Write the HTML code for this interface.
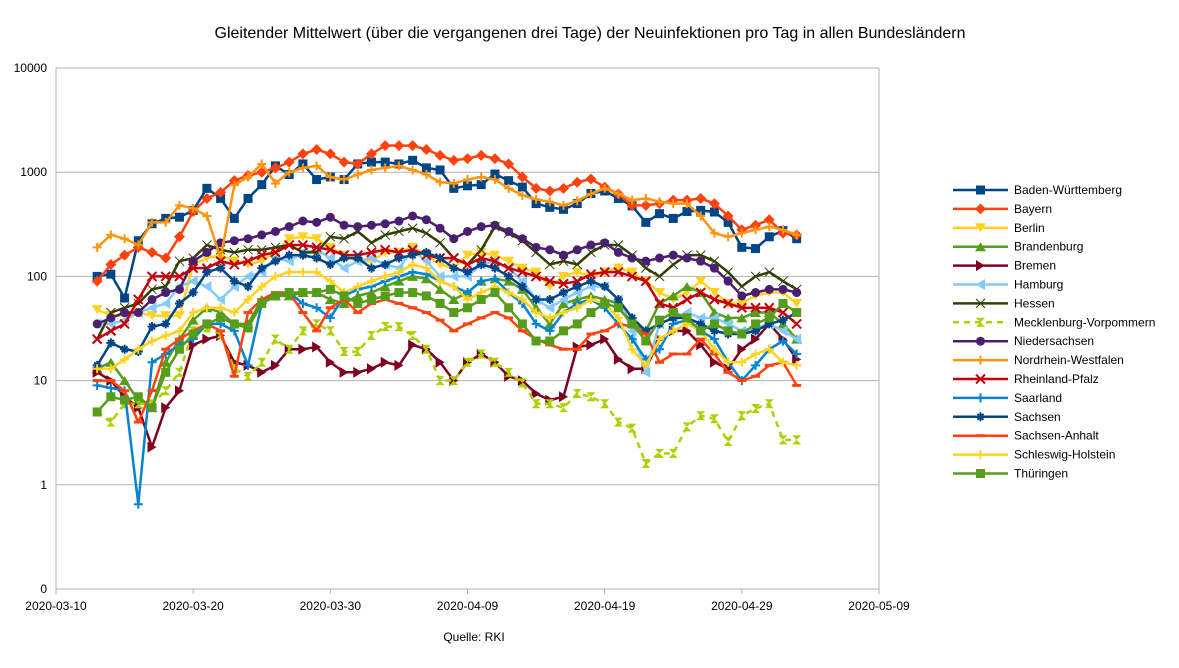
<!DOCTYPE html>
<html><head><meta charset="utf-8"><style>
body{margin:0;background:#fff;font-family:"Liberation Sans",sans-serif}
</style></head><body>
<svg id="chart" width="1179" height="663" xmlns="http://www.w3.org/2000/svg" style="font-family:'Liberation Sans',sans-serif">
<text x="590" y="38" font-size="16" text-anchor="middle" fill="#000">Gleitender Mittelwert (über die vergangenen drei Tage) der Neuinfektionen pro Tag in allen Bundesländern</text>
<text x="474" y="641" font-size="12" text-anchor="middle" fill="#000">Quelle: RKI</text>
<g id="grid"></g><g id="series"></g><g id="legend"></g>
</svg>
<script>
const startDate = "2020-03-13";
const xTickLabels = ["2020-03-10","2020-03-20","2020-03-30","2020-04-09","2020-04-19","2020-04-29","2020-05-09"];
const yTickLabels = ["0","1","10","100","1000","10000"];
const seriesNames = ["Baden-Württemberg","Bayern","Berlin","Brandenburg","Bremen","Hamburg","Hessen","Mecklenburg-Vorpommern","Niedersachsen","Nordrhein-Westfalen","Rheinland-Pfalz","Saarland","Sachsen","Sachsen-Anhalt","Schleswig-Holstein","Thüringen"];
const bw = [100,105,62,220,320,360,370,430,700,560,360,560,760,1150,950,1200,850,900,850,1200,1250,1250,1200,1300,1100,1050,700,740,760,960,830,720,500,460,440,500,625,660,560,475,330,400,360,420,430,415,330,190,185,240,275,230];
const by = [90,130,160,190,170,150,240,420,560,640,830,930,1000,1100,1250,1500,1650,1500,1250,1200,1500,1800,1800,1800,1650,1450,1300,1350,1450,1350,1200,900,700,660,700,800,860,720,620,480,480,500,540,540,560,500,380,280,310,350,260,250];
const be = [48,42,42,45,42,42,42,130,150,160,140,130,140,170,230,240,230,190,160,140,140,170,170,190,160,130,120,160,170,160,140,120,110,80,100,110,100,110,120,110,90,70,60,70,90,70,55,55,65,70,70,55];
const bb = [13,15,10,6.5,5.5,15,25,38,50,45,35,35,60,65,65,70,70,60,55,65,70,80,90,100,95,75,60,70,90,95,90,75,50,35,55,60,65,60,55,35,30,55,65,80,70,45,40,40,45,45,35,25];
const hb = [12,10,7,5.5,2.3,5.5,8,22,25,27,15,14,12,14,20,20,21,15,12,12,13,15,14,22,20,15,10,15,18,15,11,10,7.5,6.5,7,21,22,25,16,13,13,25,30,30,22,15,13,20,25,35,25,16];
const hh = [35,35,38,45,50,55,80,90,80,60,80,100,110,150,140,170,180,150,120,140,150,130,120,180,140,100,100,100,130,140,120,90,60,50,60,70,80,80,60,30,12,35,40,45,40,40,35,30,32,35,30,25];
const he = [25,45,50,55,75,80,140,150,200,180,170,180,180,190,200,170,170,240,230,270,210,250,270,290,260,210,150,130,180,300,260,220,170,130,140,130,170,200,200,160,120,100,130,160,160,140,110,80,100,110,90,75];
const mv = [5,4,6,6,6,8,12,30,32,28,13,11,15,25,20,30,35,30,19,19,27,33,33,27,20,10,10,15,18,15,12,9.5,6,6,5.5,7.5,7,6,4,3.5,1.6,2,2,3.6,4.6,4.3,2.6,4.6,5.4,6,2.7,2.7];
const ni = [35,40,45,45,60,70,75,140,170,210,220,230,250,270,300,340,330,370,310,300,310,320,340,380,350,290,230,270,300,310,270,230,190,180,160,180,200,210,170,150,140,150,160,150,140,120,90,65,70,75,75,70];
const nw = [190,250,230,200,330,330,480,450,380,150,750,900,1200,780,1000,1100,1150,900,850,950,1050,1100,1150,1050,950,800,780,850,900,850,700,600,550,520,480,530,620,700,620,540,560,520,500,500,380,260,240,260,280,300,280,250];
const rp = [25,30,35,60,100,100,100,120,120,140,130,140,160,170,200,200,190,180,160,160,170,180,170,180,160,150,150,130,150,140,120,110,100,90,85,90,105,110,110,100,90,55,50,60,70,60,55,50,50,50,45,35];
const sl = [9,8.5,8,0.65,15,18,22,25,35,35,30,14,55,65,70,55,50,40,65,75,80,90,100,110,105,90,80,70,90,95,70,55,35,30,45,55,60,50,35,25,16,20,35,38,30,25,15,10,14,20,24,18];
const sn = [14,23,20,19,33,35,55,70,110,120,90,80,120,140,160,160,150,130,150,150,120,130,150,160,170,150,120,110,130,120,100,80,60,60,70,80,90,80,60,40,30,35,40,40,35,30,28,28,30,35,38,45];
const st = [10,10,8,4,8,20,25,30,35,30,11,45,60,70,70,45,30,50,60,45,55,60,55,50,45,38,30,35,40,45,40,30,25,22,20,20,28,30,35,33,28,15,18,18,25,18,12,10,11,14,15,9];
const sh = [13,13,16,20,24,27,30,45,50,50,45,60,80,100,110,110,110,90,70,80,90,100,110,130,120,90,80,60,70,80,70,60,45,40,45,50,60,55,40,20,14,25,30,35,30,20,15,15,18,20,15,14];
const th = [5,7,6.5,7,5.5,12,20,28,35,40,35,32,55,65,70,70,70,75,65,55,60,65,70,70,65,55,45,50,60,70,50,35,24,24,30,35,45,55,50,35,24,38,45,40,30,35,30,28,35,40,55,45];
const seriesValues = [bw,by,be,bb,hb,hh,he,mv,ni,nw,rp,sl,sn,st,sh,th];
const colors = ["#004586","#ff420e","#ffd320","#579d1c","#7e0021","#83caff","#314004","#aecf00","#4b1f6f","#ff950e","#c5000b","#0084d1","#004586","#ff420e","#ffd320","#579d1c"];
const markers = ["square","diamond","tdown","tup","tright","tleft","bowtie","hourglass","circle","star","x","plus","asterisk","minus","plus","square"];

const NS="http://www.w3.org/2000/svg";
const L=56,R=879,T=68,B=589;
const day0=Date.parse("2020-03-10");
function xScale(d){return L+(Date.parse(d)-day0)/86400000*(R-L)/60;}
function xIdx(i){return xScale(startDate)+i*(R-L)/60;}
function yScale(v){return B-(Math.log10(v)+1)*(B-T)/5;}
function mk(tag,attrs,parent){const e=document.createElementNS(NS,tag);for(const k in attrs)e.setAttribute(k,attrs[k]);parent.appendChild(e);return e;}
const grid=document.getElementById('grid');
yTickLabels.forEach((lab,i)=>{
  const y=B-i*(B-T)/5;
  const l=mk('line',{x1:L,x2:R,y1:y,y2:y,stroke:'#b3b3b3','stroke-width':1},grid);
  
  
  const t=mk('text',{x:47,y:y+4,'font-size':12,'text-anchor':'end'},grid);
  t.textContent=lab;
  
  
});
mk('line',{x1:L,x2:L,y1:T,y2:B,stroke:'#b3b3b3'},grid);
mk('line',{x1:R,x2:R,y1:T,y2:B,stroke:'#b3b3b3'},grid);
xTickLabels.forEach(lab=>{
  const x=xScale(lab);
  mk('line',{x1:x,x2:x,y1:B,y2:B+5,stroke:'#b3b3b3'},grid);
  const t=mk('text',{x:x,y:B+21,'font-size':12,'text-anchor':'middle'},grid);
  t.textContent=lab;
  
  
});
function marker(type,x,y,c,p){
  const s=4.5;
  switch(type){
  case 'square':return mk('rect',{x:x-s,y:y-s,width:2*s,height:2*s,fill:c},p);
  case 'diamond':return mk('polygon',{points:`${x},${y-s-1} ${x+s+1},${y} ${x},${y+s+1} ${x-s-1},${y}`,fill:c},p);
  case 'tdown':return mk('polygon',{points:`${x-s-1},${y-s} ${x+s+1},${y-s} ${x},${y+s}`,fill:c},p);
  case 'tup':return mk('polygon',{points:`${x-s-1},${y+s} ${x+s+1},${y+s} ${x},${y-s}`,fill:c},p);
  case 'tright':return mk('polygon',{points:`${x-s},${y-s-1} ${x-s},${y+s+1} ${x+s},${y}`,fill:c},p);
  case 'tleft':return mk('polygon',{points:`${x+s},${y-s-1} ${x+s},${y+s+1} ${x-s},${y}`,fill:c},p);
  case 'bowtie':return mk('polygon',{points:`${x-s},${y-s} ${x},${y} ${x-s},${y+s} ${x+s},${y-s} ${x},${y} ${x+s},${y+s}`,fill:c,stroke:c},p);
  case 'hourglass':return mk('polygon',{points:`${x-s},${y-s} ${x+s},${y-s} ${x},${y} ${x+s},${y+s} ${x-s},${y+s} ${x},${y}`,fill:c},p);
  case 'circle':return mk('circle',{cx:x,cy:y,r:s,fill:c},p);
  case 'x':return mk('path',{d:`M${x-s} ${y-s}L${x+s} ${y+s}M${x-s} ${y+s}L${x+s} ${y-s}`,stroke:c,'stroke-width':2,fill:'none'},p);
  case 'plus':case 'star':return mk('path',{d:`M${x-s} ${y}H${x+s}M${x} ${y-s}V${y+s}`,stroke:c,'stroke-width':2,fill:'none'},p);
  case 'asterisk':return mk('path',{d:`M${x-s} ${y}H${x+s}M${x} ${y-s}V${y+s}M${x-3} ${y-3}L${x+3} ${y+3}M${x-3} ${y+3}L${x+3} ${y-3}`,stroke:c,'stroke-width':2,fill:'none'},p);
  case 'minus':return mk('rect',{x:x-s,y:y-1.5,width:2*s,height:3,fill:c},p);
  }
}
const sg=document.getElementById('series');
const lg=document.getElementById('legend');
seriesValues.forEach((vals,si)=>{
  const c=colors[si];
  const g=mk('g',{},sg);
  
  
  const pts=vals.map((v,i)=>xIdx(i).toFixed(1)+','+yScale(v).toFixed(1)).join(' ');
  const pl=mk('polyline',{points:pts,fill:'none',stroke:c,'stroke-width':2.5,'stroke-linejoin':'round'},g);
  if(si===7)pl.setAttribute('stroke-dasharray','6,5');
  vals.forEach((v,i)=>{
    const m=marker(markers[si],xIdx(i),yScale(v),c,g);
    
    
  });
  const ly=190+si*18.9;
  const le=mk('g',{},lg);
  
  
  const ll=mk('line',{x1:953,x2:1008,y1:ly,y2:ly,stroke:c,'stroke-width':2.5},le);
  if(si===7)ll.setAttribute('stroke-dasharray','6,5');
  marker(markers[si],980.5,ly,c,le);
  const t=mk('text',{x:1014,y:ly+4,'font-size':12},le);
  t.textContent=seriesNames[si];
});
</script>
</body></html>
